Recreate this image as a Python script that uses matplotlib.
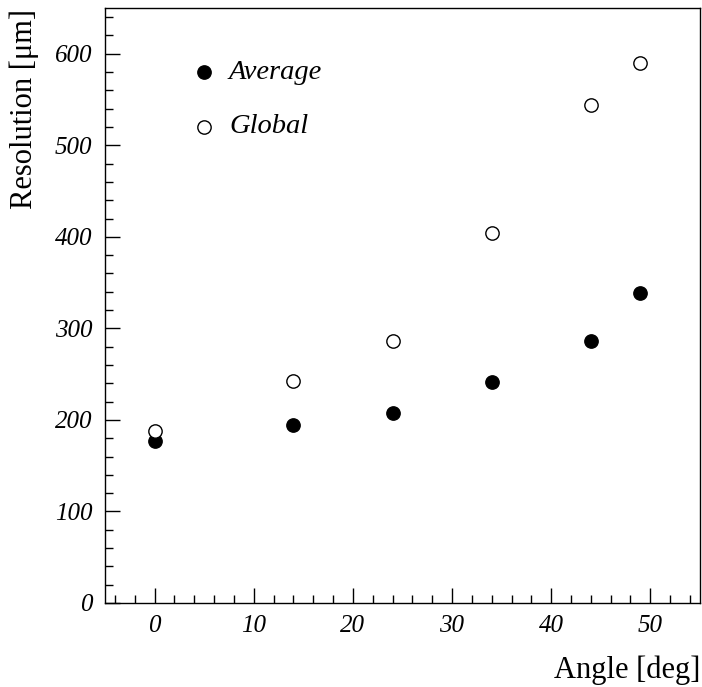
import matplotlib
matplotlib.use("Agg")
import matplotlib.pyplot as plt
from matplotlib.ticker import MultipleLocator

plt.rcParams['font.family'] = ['Liberation Serif', 'DejaVu Serif']

# resolution vs. track angle
angle = [0, 14, 24, 34, 44, 49]
res_average = [177, 194, 208, 241, 286, 339]
res_global = [188, 242, 286, 404, 544, 590]

fig = plt.figure(figsize=(7.02, 6.87), dpi=100)
ax = fig.add_axes([0.1496, 0.1223, 0.8474, 0.8661])

ax.plot(angle, res_average, 'o', color='black', markersize=9.6, linestyle='none')
ax.plot(angle, res_global, 'o', markerfacecolor='white', markeredgecolor='black',
        markeredgewidth=1.0, markersize=9.6, linestyle='none')

# legend drawn by hand, ROOT style
ax.plot([5], [580], 'o', color='black', markersize=9.6)
ax.text(7.5, 580, 'Average', style='italic', fontsize=20.5, va='center', ha='left')
ax.plot([5], [520], 'o', markerfacecolor='white', markeredgecolor='black',
        markeredgewidth=1.0, markersize=9.6)
ax.text(7.5, 520, 'Global', style='italic', fontsize=20.5, va='center', ha='left')

ax.set_xlim(-5, 55)
ax.set_ylim(0, 650)
ax.xaxis.set_major_locator(MultipleLocator(10))
ax.xaxis.set_minor_locator(MultipleLocator(2))
ax.yaxis.set_major_locator(MultipleLocator(100))
ax.yaxis.set_minor_locator(MultipleLocator(20))
ax.tick_params(which='both', direction='in', top=False, right=False, width=1.0)
ax.tick_params(which='major', length=11, labelsize=18, pad=9)
ax.tick_params(which='minor', length=5.5)
for lab in ax.get_xticklabels() + ax.get_yticklabels():
    lab.set_style('italic')

for sp in ax.spines.values():
    sp.set_linewidth(1.0)

# axis titles placed at the corners
fig.text(700 / 702, 9 / 687, 'Angle [deg]', fontsize=22, ha='right', va='baseline')
fig.text(24 / 702, 1 - 9 / 687, 'Resolution [μm]', fontsize=22, rotation=90,
         ha='center', va='top')

fig.savefig('out.png', dpi=100)
